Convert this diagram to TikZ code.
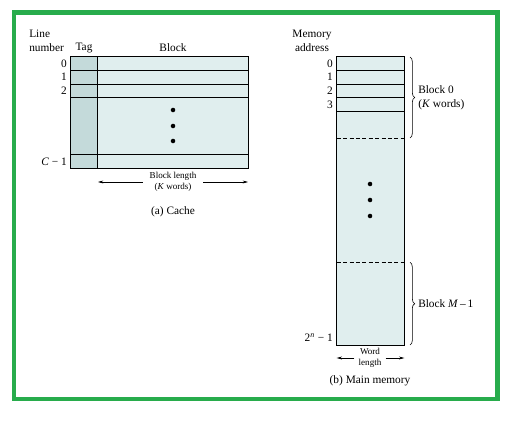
\documentclass[tikz,border=0pt]{standalone}
\usepackage{fontspec}
\setmainfont{Liberation Serif}
\usetikzlibrary{arrows.meta,decorations.pathreplacing}
\definecolor{framegreen}{RGB}{40,172,76}
\definecolor{tagfill}{RGB}{196,218,218}
\definecolor{cellfill}{RGB}{224,238,238}

\begin{document}
\begin{tikzpicture}[x=0.75pt,y=-0.75pt,
    lbl/.style={font=\fontsize{8.5}{10.5}\selectfont, inner sep=0pt},
    small/.style={font=\fontsize{6.8}{8}\selectfont, inner sep=0pt, align=center},
    tagcell/.style={draw, fill=tagfill, line width=0.6pt},
    cell/.style={draw, fill=cellfill, line width=0.6pt},
    arr/.style={-{Stealth[length=4pt,width=2.2pt]}, line width=0.4pt},
    brc/.style={decorate, decoration={brace, amplitude=3.5pt}, line width=0.45pt},
    bdot/.style={circle, fill, inner sep=0pt, minimum size=3.4pt}]
  \useasboundingbox (0,0) rectangle (516,420);
  \draw[framegreen, line width=3.4pt] (14,12.5) rectangle (497.5,399);

  % cache
  \node[lbl, align=left, anchor=west] (linehead) at (29,41) {Line\\number};
  \node[lbl] (taghead) at (84,48) {Tag};
  \node[lbl] (blockhead) at (173,48) {Block};
  \draw[tagcell] (70.7,97.8) rectangle (97.7,154.5);
  \draw[cell] (97.7,97.8) rectangle (248,154.5);
  \foreach \t/\b/\n [count=\i] in {56.7/70.4/0, 70.4/84.1/1, 84.1/97.8/2, 154.5/168.3/{\itshape C}~−~1} {
    \draw[tagcell] (70.7,\t) rectangle (97.7,\b);
    \draw[cell] (97.7,\t) rectangle (248,\b);
    \node[lbl, anchor=east] (line\i) at (67,{(\t+\b)/2}) {\n};
  }
  \foreach \y [count=\i] in {110,126,141}
    \node[bdot] (cdot\i) at (173,\y) {};
  \node[small] (blen) at (173,182) {Block length\\(\textit{K} words)};
  \coordinate (blenL) at (98,182);
  \coordinate (blenR) at (248,182);
  \draw[arr] ([xshift=-5pt]blen.west) -- (blenL);
  \draw[arr] ([xshift=5pt]blen.east) -- (blenR);
  \node[lbl] (cachecap) at (173,212) {(a) Cache};

  % main memory
  \node[lbl, align=center] (memhead) at (312,41) {Memory\\address};
  \draw[cell] (336.7,111.4) rectangle (404.3,345);
  \foreach \t/\b/\n [count=\i] in {56.7/70.4/0, 70.4/84.1/1, 84.1/97.8/2, 97.8/111.4/3} {
    \draw[cell] (336.7,\t) rectangle (404.3,\b);
    \node[lbl, anchor=east] (addr\i) at (333,{(\t+\b)/2}) {\n};
  }
  \draw[dashed, dash pattern=on 3pt off 1.8pt, line width=0.6pt] (336.7,138) -- (404.3,138);
  \draw[dashed, dash pattern=on 3pt off 1.8pt, line width=0.6pt] (336.7,262.3) -- (404.3,262.3);
  \foreach \y [count=\i] in {184,200,216}
    \node[bdot] (mdot\i) at (370,\y) {};
  \node[lbl, anchor=east] (addrlast) at (333,338) {2\textsuperscript{\itshape n}~−~1};

  \coordinate (blk0top) at (410,57);
  \coordinate (blk0bot) at (410,138);
  \coordinate (blkMtop) at (410,262.3);
  \coordinate (blkMbot) at (410,345);
  \draw[brc] (blk0top) -- (blk0bot);
  \draw[brc] (blkMtop) -- (blkMbot);
  \node[lbl, align=left, anchor=west] (blk0) at (418,97.5) {Block 0\\(\textit{K} words)};
  \node[lbl, anchor=west] (blkM) at (418,303.6) {Block \textit{M}\,–\,1};

  \node[small] (wlen) at (370,358) {Word\\length};
  \coordinate (wlenL) at (336.7,358);
  \coordinate (wlenR) at (404.3,358);
  \draw[arr] ([xshift=-3pt]wlen.west) -- (wlenL);
  \draw[arr] ([xshift=3pt]wlen.east) -- (wlenR);
  \node[lbl] (memcap) at (370,381) {(b) Main memory};
\end{tikzpicture}
\end{document}
